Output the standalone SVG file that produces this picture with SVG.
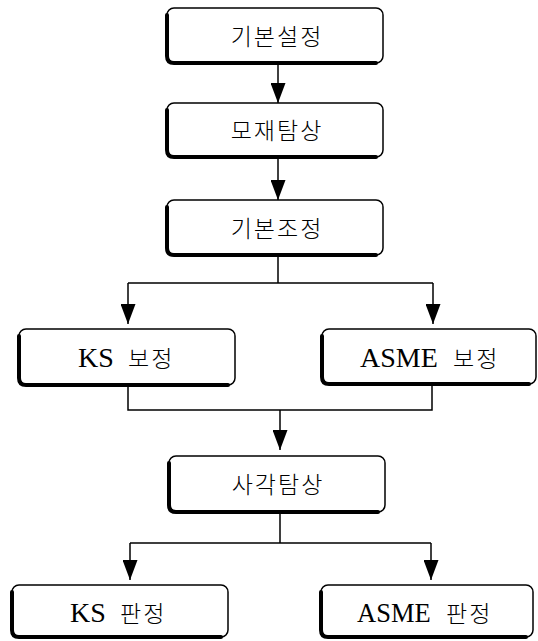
<svg xmlns="http://www.w3.org/2000/svg" width="538" height="641" viewBox="0 0 538 641">
<style>
.box{fill:#fff;stroke:#000;stroke-width:1.5}
.sh{fill:none;stroke:#000;stroke-width:4;stroke-linecap:round}
.kr{font-family:"Noto Sans CJK KR","Noto Sans",sans-serif;font-size:23px;font-weight:300;letter-spacing:2px;fill:#000}
.lat{font-family:"Liberation Serif","Times New Roman",serif;font-size:28px;font-weight:400;letter-spacing:0;fill:#000}
.con{fill:none;stroke:#000;stroke-width:1.5}
</style>
<defs>
<marker id="ah" markerUnits="userSpaceOnUse" markerWidth="20" markerHeight="15" viewBox="0 0 20 15" refX="20" refY="7.5" orient="auto">
<path d="M0,0 L20,7.5 L0,15 Z" fill="#000"/>
</marker>
</defs>
<rect width="538" height="641" fill="#fff"/>
<g id="connectors">
<path class="con" d="M278,63 V103" marker-end="url(#ah)"/>
<path class="con" d="M278,157 V200" marker-end="url(#ah)"/>
<path class="con" d="M278,255 V283 M128,283 H433"/>
<path class="con" d="M128,283 V324" marker-end="url(#ah)"/>
<path class="con" d="M433,283 V324" marker-end="url(#ah)"/>
<path class="con" d="M128,385 V410 H432 V384"/>
<path class="con" d="M280,410 V450" marker-end="url(#ah)"/>
<path class="con" d="M280,512 V543 M130,543 H431"/>
<path class="con" d="M130,543 V580" marker-end="url(#ah)"/>
<path class="con" d="M431,543 V580" marker-end="url(#ah)"/>
</g>
<g id="n1">
<rect class="box" x="167" y="8" width="216" height="55" rx="7"/>
<path class="sh" d="M167,15 V56 Q167,63 174,63 H376"/>
<text class="kr" x="277" y="45" text-anchor="middle">기본설정</text>
</g>
<g id="n2">
<rect class="box" x="167" y="103" width="216" height="54" rx="7"/>
<path class="sh" d="M167,110 V150 Q167,157 174,157 H376"/>
<text class="kr" x="277" y="139" text-anchor="middle">모재탐상</text>
</g>
<g id="n3">
<rect class="box" x="167" y="200" width="216" height="55" rx="7"/>
<path class="sh" d="M167,207 V248 Q167,255 174,255 H376"/>
<text class="kr" x="277" y="237" text-anchor="middle">기본조정</text>
</g>
<g id="n4">
<rect class="box" x="19" y="329" width="216" height="56" rx="7"/>
<path class="sh" d="M19,336 V378 Q19,385 26,385 H228"/>
<text x="78" y="367"><tspan class="lat" font-family="Liberation Serif, serif">KS</tspan> <tspan class="kr" x="128">보정</tspan></text>
</g>
<g id="n5">
<rect class="box" x="322" y="329" width="214" height="55" rx="7"/>
<path class="sh" d="M322,336 V377 Q322,384 329,384 H529"/>
<text x="360" y="367"><tspan class="lat" font-family="Liberation Serif, serif">ASME</tspan> <tspan class="kr" x="453">보정</tspan></text>
</g>
<g id="n6">
<rect class="box" x="169" y="456" width="216" height="56" rx="7"/>
<path class="sh" d="M169,463 V505 Q169,512 176,512 H378"/>
<text class="kr" x="278" y="493" text-anchor="middle">사각탐상</text>
</g>
<g id="n7">
<rect class="box" x="12" y="585" width="216" height="52" rx="7"/>
<path class="sh" d="M12,592 V630 Q12,637 19,637 H221"/>
<text x="70" y="622"><tspan class="lat" font-family="Liberation Serif, serif">KS</tspan> <tspan class="kr" x="120">판정</tspan></text>
</g>
<g id="n8">
<rect class="box" x="321" y="585" width="212" height="52" rx="7"/>
<path class="sh" d="M321,592 V630 Q321,637 328,637 H526"/>
<text x="357" y="622"><tspan class="lat" font-family="Liberation Serif, serif" style="font-size:26.5px">ASME</tspan> <tspan class="kr" x="446">판정</tspan></text>
</g>
</svg>
